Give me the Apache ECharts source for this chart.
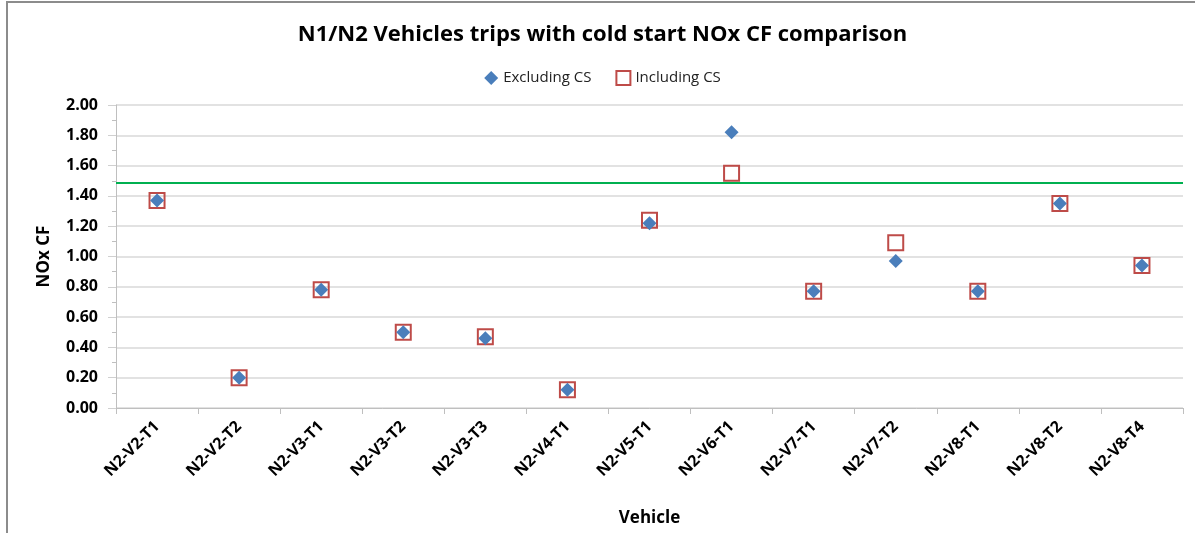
<!DOCTYPE html>
<html>
<head>
<meta charset="utf-8">
<script src="https://cdn.jsdelivr.net/npm/echarts@6/dist/echarts.min.js"></script>
<style>
  html, body { margin: 0; padding: 0; background: #fff; }
  #chart {
    position: absolute; left: 6px; top: 1px;
    width: 1189px; height: 532px;
    border-left: 2px solid #8c8c8c; border-top: 2px solid #8c8c8c;
  }
</style>
</head>
<body>
<div id="chart"></div>
<script>
// categories (vehicle / trip)
const vehicles = ['N2-V2-T1', 'N2-V2-T2', 'N2-V3-T1', 'N2-V3-T2', 'N2-V3-T3', 'N2-V4-T1', 'N2-V5-T1',
  'N2-V6-T1', 'N2-V7-T1', 'N2-V7-T2', 'N2-V8-T1', 'N2-V8-T2', 'N2-V8-T4'];
// NOx CF values
const excludingCS = [1.37, 0.20, 0.78, 0.50, 0.46, 0.12, 1.22, 1.82, 0.77, 0.97, 0.77, 1.35, 0.94];
const includingCS = [1.37, 0.20, 0.78, 0.50, 0.47, 0.12, 1.24, 1.55, 0.77, 1.09, 0.77, 1.35, 0.94];
// limit line
const cfLimit = 1.49;

const chart = echarts.init(document.getElementById('chart'));
const font = '"Open Sans", "Liberation Sans", sans-serif';

const option = {
  animation: false,
  textStyle: { fontFamily: font },
  title: {
    text: 'N1/N2 Vehicles trips with cold start NOx CF comparison',
    left: 'center',
    top: 16,
    textStyle: { fontSize: 22, fontWeight: 'bold', color: '#000', fontFamily: font }
  },
  legend: {
    data: ['Excluding CS', 'Including CS'],
    top: 62,
    left: 'center',
    itemGap: 24,
    itemWidth: 14,
    itemHeight: 14,
    textStyle: { fontSize: 15, color: '#222', fontFamily: font }
  },
  grid: { left: 108, right: 14, top: 102, bottom: 127 },
  xAxis: {
    type: 'category',
    data: vehicles,
    boundaryGap: true,
    name: 'Vehicle',
    nameLocation: 'middle',
    nameGap: 102,
    nameTextStyle: { fontSize: 17, fontWeight: 'bold', color: '#000' },
    axisLine: { lineStyle: { color: '#bfbfbf', width: 1 } },
    axisTick: { show: true, length: 6, lineStyle: { color: '#bfbfbf' } },
    axisLabel: {
      rotate: 45, fontSize: 16, fontWeight: 'bold', color: '#000',
      margin: 16, interval: 0
    },
    splitLine: { show: false }
  },
  yAxis: {
    type: 'value',
    min: 0,
    max: 2,
    interval: 0.2,
    name: 'NOx CF',
    nameLocation: 'middle',
    nameGap: 63,
    nameTextStyle: { fontSize: 17, fontWeight: 'bold', color: '#000' },
    axisLine: { show: true, lineStyle: { color: '#bfbfbf', width: 1 } },
    axisTick: { show: true, length: 8, lineStyle: { color: '#d0d0d0' } },
    minorTick: { show: true, splitNumber: 2, length: 4, lineStyle: { color: '#bfbfbf' } },
    axisLabel: {
      fontSize: 16, fontWeight: 'bold', color: '#000', margin: 18,
      formatter: v => v.toFixed(2)
    },
    splitLine: { show: true, lineStyle: { color: '#d9d9d9', width: 1.5 } }
  },
  series: [
    {
      name: 'Excluding CS',
      type: 'scatter',
      data: excludingCS,
      symbol: 'diamond',
      symbolSize: [14, 14],
      itemStyle: { color: '#4a7ebb', opacity: 1 },
      z: 4,
      markLine: {
        silent: true,
        symbol: 'none',
        label: { show: false },
        lineStyle: { color: '#00b050', width: 2, type: 'solid' },
        data: [{ yAxis: cfLimit }]
      }
    },
    {
      name: 'Including CS',
      type: 'scatter',
      data: includingCS,
      symbol: 'rect',
      symbolSize: 15,
      itemStyle: { color: 'rgba(255,255,255,0)', borderColor: '#be4b48', borderWidth: 2, opacity: 1 },
      z: 3
    }
  ]
};

chart.setOption(option);
window.addEventListener('resize', () => chart.resize());
</script>
</body>
</html>
